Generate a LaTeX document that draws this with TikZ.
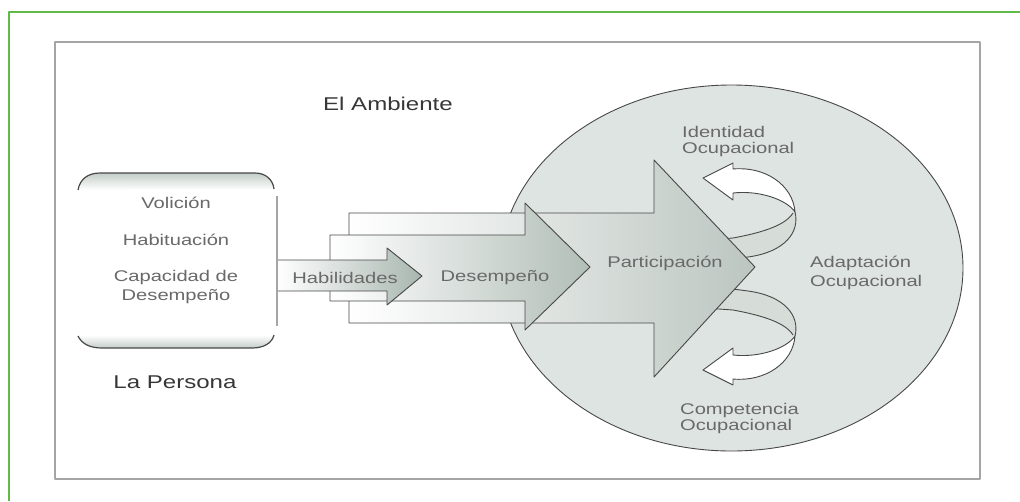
\documentclass[tikz,border=0pt]{standalone}
\usepackage{fontspec}
\setmainfont{Liberation Sans}[FakeStretch=1.3]
\definecolor{framegreen}{RGB}{96,186,72}
\definecolor{framegray}{RGB}{165,165,165}
\definecolor{ellfill}{RGB}{222,228,225}
\definecolor{backfill}{RGB}{214,221,217}
\definecolor{arrL}{RGB}{188,198,193}
\definecolor{arrM}{RGB}{178,190,184}
\definecolor{arrS}{RGB}{168,182,175}
\definecolor{capgray}{RGB}{196,205,200}
\definecolor{linegray}{RGB}{72,72,72}
\definecolor{txtgray}{RGB}{105,105,105}
\definecolor{txtdark}{RGB}{55,55,55}
\tikzset{
  sm/.style={font=\fontsize{15.5}{18.5}\selectfont, text=txtgray, inner sep=0pt},
  smtight/.style={font=\fontsize{15.5}{16}\selectfont, text=txtgray, inner sep=0pt, align=left, anchor=west},
  big/.style={font=\fontsize{18.5}{22}\selectfont, text=txtdark, inner sep=0pt},
  outline/.style={draw=linegray, line width=0.9pt},
}
\begin{document}
\begin{tikzpicture}[x=1pt,y=-1pt,line join=round]
\useasboundingbox (0,0) rectangle (1020,501);
\fill[white] (0,0) rectangle (1020,501);
% frames
\draw[framegreen, line width=2pt] (9,501) -- (9,12) -- (1020,12);
\draw[framegray, line width=1.5pt] (55,42) rectangle (980,479);
\draw[framegray, line width=2.5pt] (980,42) -- (980,479);
% environment ellipse
\draw[outline, fill=ellfill] (731.5,268) ellipse [x radius=231.5, y radius=183];
% back parts of the curved arrows
\newcommand{\ribbonback}{%
  \fill[backfill] (795,212) .. controls (800,232) and (785,252) .. (748,257) -- (725,260) -- (705,240)
     -- (733,238) .. controls (760,233) and (785,226) .. (793,213) -- cycle;
  \draw[outline] (795,212) .. controls (800,232) and (785,252) .. (748,257) -- (725,260);
  \draw[outline] (793,213) .. controls (785,226) and (760,233) .. (733,238) -- (705,240);
}
\newcommand{\ribbonfront}{%
  \draw[outline, fill=white] (733,163) -- (733,169) .. controls (765,166) and (793,185) .. (795,212)
     .. controls (787,200) and (760,190) .. (733,193) -- (733,200) -- (703,178) -- cycle;
}
\ribbonback
\begin{scope}[shift={(0,548)}, yscale=-1]
\ribbonback
\end{scope}
% block arrows
\shade[left color=white, right color=arrL] (349,213) -- (654,213) -- (654,160) -- (755,267) -- (654,377) -- (654,323) -- (349,323) -- cycle;
\draw[outline] (349,213) -- (654,213) -- (654,160) -- (755,267) -- (654,377) -- (654,323) -- (349,323) -- cycle;
\shade[left color=white, right color=arrM] (330,235) -- (525,235) -- (525,203) -- (590,267) -- (525,330) -- (525,301) -- (330,301) -- cycle;
\draw[outline] (330,235) -- (525,235) -- (525,203) -- (590,267) -- (525,330) -- (525,301) -- (330,301) -- cycle;
\shade[left color=white, right color=arrS] (277,260) -- (387,260) -- (387,248) -- (422,276) -- (387,305) -- (387,291) -- (277,291) -- cycle;
\draw[outline] (277,260) -- (387,260) -- (387,248) -- (422,276) -- (387,305) -- (387,291) -- (277,291);
% front parts of the curved arrows
\ribbonfront
\begin{scope}[shift={(0,548)}, yscale=-1]
\ribbonfront
\end{scope}
% person box
\shade[top color=capgray, bottom color=white] (78,190) .. controls (80,179) and (88,173) .. (100,173) -- (255,173) .. controls (266,173) and (273,180) .. (274,189) -- cycle;
\draw[linegray, line width=1.2pt] (78,190) .. controls (80,179) and (88,173) .. (100,173) -- (255,173) .. controls (266,173) and (273,180) .. (274,189);
\draw[framegray, line width=1.2pt] (277,196) -- (277,326);
\shade[top color=white, bottom color=capgray] (78,336) .. controls (82,344) and (90,348) .. (102,348) -- (252,348) .. controls (264,348) and (272,343) .. (274,335) -- cycle;
\draw[linegray, line width=1.2pt] (78,336) .. controls (82,344) and (90,348) .. (102,348) -- (252,348) .. controls (264,348) and (272,343) .. (274,335);
% texts
\node[big] (amb) at (388,104) {El Ambiente};
\node[big] (per) at (175,382) {La Persona};
\node[sm] (vol) at (176,203) {Volición};
\node[sm] (hab) at (176,240) {Habituación};
\node[sm, align=center] (cap) at (176,287) {Capacidad de\\Desempeño};
\node[sm] (habil) at (345,278) {Habilidades};
\node[sm] (des) at (495,278) {Desempeño};
\node[sm] (par) at (665,263) {Participación};
\node[sm, align=left, anchor=west] (ada) at (810,273) {Adaptación\\Ocupacional};
\node[smtight] (ide) at (682,141) {Identidad\\Ocupacional};
\node[smtight] (com) at (680,418) {Competencia\\Ocupacional};
\end{tikzpicture}
\end{document}
